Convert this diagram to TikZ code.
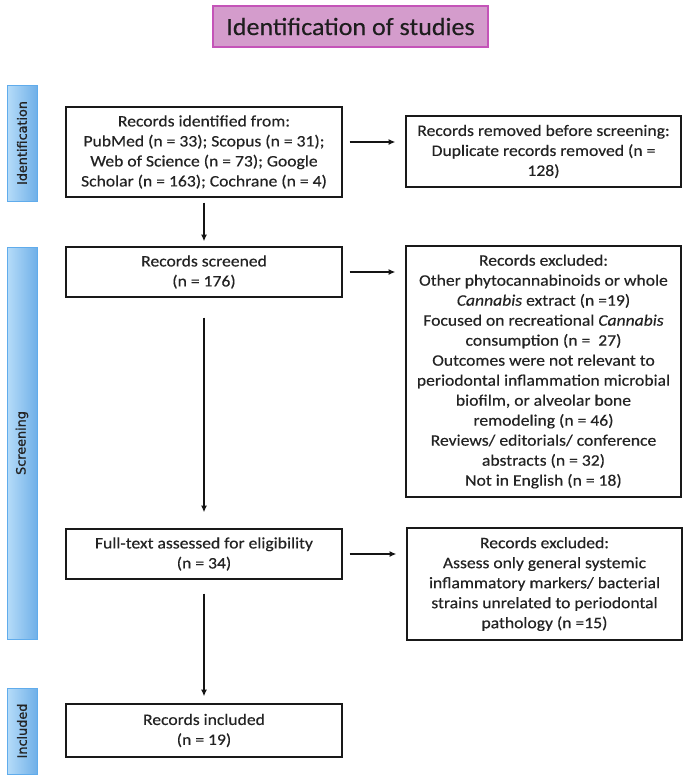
\documentclass[tikz,border=0pt]{standalone}
\usepackage{fontspec}
\setmainfont[FakeStretch=1.1,FakeBold=0.35]{Carlito}
\newfontfamily\titlefont[FakeStretch=1.05,FakeBold=0.3]{Carlito}
\newfontfamily\sidefont[FakeBold=1.2]{DejaVu Sans}
\usetikzlibrary{arrows.meta}
\definecolor{titlefill}{RGB}{212,156,204}
\definecolor{titledraw}{RGB}{196,84,184}
\definecolor{barlight}{RGB}{182,220,249}
\definecolor{bardark}{RGB}{112,176,232}
\definecolor{bardraw}{RGB}{96,172,236}
\definecolor{txt}{RGB}{35,35,35}
\tikzset{
  box/.style={draw={rgb,255:red,25;green,25;blue,25}, line width=1.1pt, fill=white,
    align=center, inner sep=0pt, text=txt, font=\fontsize{12}{15}\selectfont},
  leftbox/.style={box, minimum width={276*0.75pt}},
  rightbox/.style={box, minimum width={275*0.75pt}},
  sidebar/.style={draw=bardraw, line width=0.6pt, rotate=90, left color=barlight,
    right color=bardark, minimum height={30*0.75pt}, inner sep=0pt, text=txt,
    font=\sidefont\fontsize{9.6}{11}\selectfont},
  titlebox/.style={draw=titledraw, line width=0.8pt, fill=titlefill, inner sep=0pt,
    minimum width={275*0.75pt}, minimum height={41*0.75pt}, text={rgb,255:red,30;green,30;blue,30},
    font=\titlefont\fontsize{18.6}{22}\selectfont},
  arr/.style={-{Latex[length=5pt,width=4.5pt]}, line width=0.9pt, draw={rgb,255:red,20;green,20;blue,20}}
}
\begin{document}
\begin{tikzpicture}[x=0.75pt,y=-0.75pt]
\path[use as bounding box, fill=white] (0,0) rectangle (690,782);

\node[titlebox] (title) at (350.5,26.5) {Identification of studies};

\node[sidebar, minimum width={116*0.75pt}] (idbar) at (22,143) {Identification};
\node[sidebar, minimum width={392*0.75pt}] (scbar) at (22,443) {Screening};
\node[sidebar, minimum width={86*0.75pt}] (inbar) at (22,731) {Included};

\node[leftbox, minimum height={90*0.75pt}] (b1) at (204,152)
  {Records identified from:\\PubMed (n = 33); Scopus (n = 31);\\Web of Science (n = 73); Google\\Scholar (n = 163); Cochrane (n = 4)};
\node[rightbox, minimum height={71*0.75pt}] (b2) at (543.5,151.5)
  {Records removed before screening:\\Duplicate records removed (n =\\128)};
\node[leftbox, minimum height={50*0.75pt}] (b3) at (204,272)
  {Records screened\\(n = 176)};
\node[rightbox, minimum height={251*0.75pt}] (b4) at (543.5,371.5)
  {Records excluded:\\Other phytocannabinoids or whole\\\textit{Cannabis} extract (n =19)\\Focused on recreational \textit{Cannabis}\\consumption (n =\ \ 27)\\Outcomes were not relevant to\\periodontal inflammation microbial\\biofilm, or alveolar bone\\remodeling (n = 46)\\Reviews/ editorials/ conference\\abstracts (n = 32)\\Not in English (n = 18)};
\node[leftbox, minimum height={50*0.75pt}] (b5) at (204,554)
  {Full-text assessed for eligibility\\(n = 34)};
\node[rightbox, minimum height={112*0.75pt}] (b6) at (544.5,584)
  {Records excluded:\\Assess only general systemic\\inflammatory markers/ bacterial\\strains unrelated to periodontal\\pathology (n =15)};
\node[leftbox, minimum height={53*0.75pt}] (b7) at (204,730.5)
  {Records included\\(n = 19)};

\draw[arr, shorten <=3.75pt, shorten >=3.75pt] (b1) -- (b3);
\draw[arr, shorten <=15pt, shorten >=12pt] (b3) -- (b5);
\draw[arr, shorten <=10.5pt, shorten >=5.25pt] (b5) -- (b7);
\draw[arr, shorten <=5.25pt, shorten >=7.5pt] ([yshift=7.5pt]b1.east) -- ([yshift=7.5pt]b1.east -| b2.west);
\draw[arr, shorten <=5.25pt, shorten >=7.5pt] (b3.east) -- (b3.east -| b4.west);
\draw[arr, shorten <=5.25pt, shorten >=7.5pt] (b5.east) -- (b5.east -| b6.west);
\end{tikzpicture}
\end{document}
